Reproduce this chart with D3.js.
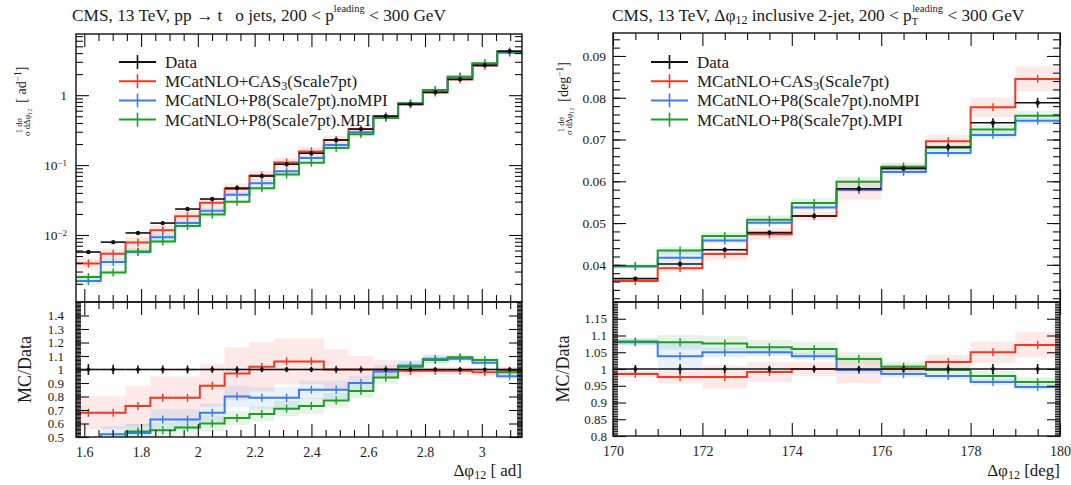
<!DOCTYPE html>
<html><head><meta charset="utf-8">
<script src="https://cdn.jsdelivr.net/npm/d3@7"></script>
<style>
body{margin:0;background:#fff}
svg{display:block}
text{font-family:"Liberation Serif","Times New Roman",serif;fill:#1a1a1a}
</style>
</head><body>
<svg id="c" width="1071" height="485"></svg>
<script>
// ---------------- data: left chart (Δφ12 in rad, 18 bins of 5 deg) ----------------
const leftEdges = [1.5708,1.6581,1.7453,1.8326,1.9199,2.0071,2.0944,2.1817,2.2689,2.3562,2.4435,2.5307,2.6180,2.7053,2.7925,2.8798,2.9671,3.0543,3.1416];
const leftData      = [0.0057,0.0079,0.0107,0.0148,0.0235,0.0327,0.0469,0.0697,0.103,0.148,0.228,0.327,0.50,0.743,1.10,1.69,2.68,4.25];
const leftDataErr   = [0.04,0.035,0.03,0.03,0.03,0.025,0.025,0.02,0.02,0.02,0.02,0.015,0.015,0.015,0.015,0.015,0.015,0.015];
const leftRedTop    = [0.0039,0.0054,0.0078,0.0117,0.0186,0.0288,0.0455,0.0711,0.109,0.157,0.228,0.327,0.50,0.736,1.09,1.67,2.63,4.21];
const leftRedRatio  = [0.68,0.68,0.73,0.79,0.79,0.88,0.97,1.02,1.06,1.06,1.0,1.0,1.0,0.99,0.99,0.99,0.98,0.99];
const leftRedUnc    = [0.18,0.18,0.2,0.2,0.2,0.18,0.2,0.18,0.16,0.16,0.15,0.1,0.07,0.04,0.03,0.03,0.03,0.03];
const leftBlueTop   = [0.0022,0.0041,0.0057,0.0093,0.0148,0.0222,0.0375,0.0551,0.0814,0.126,0.194,0.294,0.493,0.765,1.19,1.83,2.81,4.04];
const leftBlueRatio = [0.38,0.52,0.53,0.63,0.63,0.68,0.80,0.79,0.79,0.85,0.85,0.90,0.985,1.03,1.08,1.08,1.05,0.95];
const leftBlueUnc   = [0.12,0.12,0.12,0.12,0.12,0.1,0.1,0.1,0.1,0.08,0.08,0.06,0.05,0.04,0.03,0.02,0.02,0.02];
const leftGreenTop  = [0.0025,0.0029,0.0058,0.0081,0.0134,0.0196,0.030,0.0467,0.0731,0.108,0.176,0.275,0.47,0.758,1.18,1.84,2.87,4.17];
const leftGreenRatio= [0.44,0.37,0.54,0.55,0.57,0.60,0.64,0.67,0.71,0.73,0.77,0.84,0.94,1.02,1.07,1.09,1.07,0.98];
const leftGreenUnc  = [0.1,0.1,0.1,0.1,0.1,0.1,0.08,0.08,0.08,0.08,0.07,0.06,0.05,0.04,0.03,0.02,0.02,0.02];
const leftXTicks    = [1.6,1.8,2.0,2.2,2.4,2.6,2.8,3.0];
const leftYTicks    = [0.01,0.1,1];
const leftRTicks    = [0.5,0.6,0.7,0.8,0.9,1.0,1.1,1.2,1.3,1.4];

// ---------------- data: right chart (Δφ12 in deg, 10 bins of 1 deg) ----------------
const rightEdges = [170,171,172,173,174,175,176,177,178,179,180];
const rightData      = [0.0367,0.0402,0.0436,0.0477,0.0517,0.0582,0.0631,0.0682,0.0740,0.0788];
const rightDataErr   = [0.012,0.015,0.012,0.01,0.01,0.01,0.01,0.012,0.015,0.015];
const rightRedTop    = [0.0361,0.0392,0.0426,0.0473,0.0517,0.0580,0.0631,0.0696,0.0777,0.0845];
const rightRedRatio  = [0.985,0.976,0.976,0.991,1.0,0.997,1.0,1.021,1.05,1.072];
const rightRedUnc    = [0.01,0.02,0.035,0.03,0.02,0.04,0.015,0.02,0.03,0.035];
const rightBlueTop   = [0.0396,0.0417,0.0458,0.0501,0.0537,0.0580,0.0622,0.0668,0.0711,0.0745];
const rightBlueRatio = [1.08,1.038,1.05,1.05,1.038,0.997,0.985,0.979,0.961,0.946];
const rightBlueUnc   = [0.01,0.04,0.015,0.01,0.01,0.01,0.01,0.01,0.01,0.01];
const rightGreenTop  = [0.0397,0.0434,0.0469,0.0508,0.0548,0.0599,0.0635,0.0680,0.0724,0.0757];
const rightGreenRatio= [1.082,1.08,1.076,1.065,1.06,1.03,1.007,0.997,0.979,0.961];
const rightGreenUnc  = [0.01,0.02,0.02,0.02,0.02,0.02,0.015,0.01,0.015,0.015];
const rightXTicks    = [170,172,174,176,178,180];
const rightYTicks    = [0.04,0.05,0.06,0.07,0.08,0.09];
const rightRTicks    = [0.8,0.85,0.9,0.95,1.0,1.05,1.1,1.15];

const legendNames = ["Data","MCatNLO+CAS3(Scale7pt)","MCatNLO+P8(Scale7pt).noMPI","MCatNLO+P8(Scale7pt).MPI"];
const colors = {data:"#111111", red:"#ee3a22", blue:"#3b7cf4", green:"#1f9c2a"};

const svg = d3.select("#c");
const defs = svg.append("defs");

function axisG(gen, scale, vals, size, tr, fmt){
  const a = gen(scale).tickValues(vals).tickSize(-size).tickFormat(fmt || (()=>""));
  const gg = svg.append("g").attr("transform", tr).call(a);
  gg.select(".domain").remove();
  gg.selectAll("line").attr("stroke","#111").attr("stroke-width",1.1);
  return gg;
}

function panel(o){
  const x  = d3.scaleLinear().domain(o.xDomain).range([o.x0,o.x1]);
  const yT = (o.log ? d3.scaleLog() : d3.scaleLinear()).domain(o.yDomain).range([o.yMid,o.yTop]);
  const yR = d3.scaleLinear().domain(o.rDomain).range([o.yBot,o.yMid]);
  defs.append("clipPath").attr("id","ct"+o.id).append("rect")
      .attr("x",o.x0).attr("y",o.yTop).attr("width",o.x1-o.x0).attr("height",o.yMid-o.yTop);
  defs.append("clipPath").attr("id","cr"+o.id).append("rect")
      .attr("x",o.x0).attr("y",o.yMid).attr("width",o.x1-o.x0).attr("height",o.yBot-o.yMid);
  const top = svg.append("g").attr("clip-path",`url(#ct${o.id})`);
  const rat = svg.append("g").attr("clip-path",`url(#cr${o.id})`);
  const e = o.edges, n = e.length-1;
  const idx = d3.range(n);
  const ctr = idx.map(i => (e[i]+e[i+1])/2);
  const band = y => d3.area().curve(d3.curveStepAfter).x(d=>x(d[0])).y0(d=>y(d[1])).y1(d=>y(d[2]));
  const step = y => d3.line().curve(d3.curveStepAfter).x(d=>x(d[0])).y(d=>y(d[1]));
  const bpts = (v,u) => { const p = idx.map(i=>[e[i],v[i]*(1-u[i]),v[i]*(1+u[i])]); p.push([e[n],p[n-1][1],p[n-1][2]]); return p; };
  const lpts = v => { const p = idx.map(i=>[e[i],v[i]]); p.push([e[n],v[n-1]]); return p; };

  o.series.forEach(s=>{
    top.append("path").attr("d",band(yT)(bpts(s.top,s.unc))).attr("fill",s.color).attr("fill-opacity",0.11);
    rat.append("path").attr("d",band(yR)(bpts(s.ratio,s.unc))).attr("fill",s.color).attr("fill-opacity",0.11);
  });
  o.series.forEach(s=>{
    [[top,yT,s.top],[rat,yR,s.ratio]].forEach(([g,y,v])=>{
      g.append("path").attr("d",step(y)(lpts(v))).attr("fill","none").attr("stroke",s.color).attr("stroke-width",2);
      g.selectAll(null).data(idx).enter().append("line")
        .attr("x1",i=>x(ctr[i])).attr("x2",i=>x(ctr[i]))
        .attr("y1",i=>y(v[i])-4).attr("y2",i=>y(v[i])+4)
        .attr("stroke",s.color).attr("stroke-width",1.4);
    });
  });
  // data in top panel
  const dt = top.append("g").attr("stroke",colors.data);
  dt.selectAll(null).data(idx).enter().append("line")
    .attr("x1",i=>x(e[i])).attr("x2",i=>x(e[i+1])).attr("y1",i=>yT(o.data[i])).attr("y2",i=>yT(o.data[i])).attr("stroke-width",1.6);
  dt.selectAll(null).data(idx).enter().append("line")
    .attr("x1",i=>x(ctr[i])).attr("x2",i=>x(ctr[i]))
    .attr("y1",i=>yT(o.data[i]*(1-o.dataErr[i]))).attr("y2",i=>yT(o.data[i]*(1+o.dataErr[i]))).attr("stroke-width",1.6);
  top.selectAll(null).data(idx).enter().append("circle")
    .attr("cx",i=>x(ctr[i])).attr("cy",i=>yT(o.data[i])).attr("r",2.2).attr("fill",colors.data);
  // data in ratio panel
  const dr = rat.append("g").attr("stroke",colors.data);
  dr.selectAll(null).data(idx).enter().append("line")
    .attr("x1",i=>x(e[i])).attr("x2",i=>x(e[i+1])).attr("y1",yR(1)).attr("y2",yR(1)).attr("stroke-width",1.6);
  dr.selectAll(null).data(idx).enter().append("line")
    .attr("x1",i=>x(ctr[i])).attr("x2",i=>x(ctr[i]))
    .attr("y1",i=>yR(1-o.dataErr[i])).attr("y2",i=>yR(1+o.dataErr[i])).attr("stroke-width",1.6);
  rat.selectAll(null).data(idx).enter().append("circle")
    .attr("cx",i=>x(ctr[i])).attr("cy",yR(1)).attr("r",2).attr("fill",colors.data);

  // ticks (inward, on all sides)
  const big=13, small=7;
  axisG(d3.axisTop, x, o.xMajor, big, `translate(0,${o.yTop})`);
  axisG(d3.axisTop, x, o.xMinor, small, `translate(0,${o.yTop})`);
  axisG(d3.axisBottom, x, o.xMajor, big, `translate(0,${o.yMid})`);
  axisG(d3.axisBottom, x, o.xMinor, small, `translate(0,${o.yMid})`);
  const yl = axisG(d3.axisLeft, yT, o.yMajor, big, `translate(${o.x0},0)`, o.yFmt);
  yl.selectAll(".tick text").style("font-size","13.5px").attr("x",-o.yPad);
  axisG(d3.axisLeft, yT, o.yMinor, small, `translate(${o.x0},0)`);
  axisG(d3.axisRight, yT, o.yMajor, big, `translate(${o.x1},0)`);
  axisG(d3.axisRight, yT, o.yMinor, small, `translate(${o.x1},0)`);
  if (o.log) {
    yl.selectAll(".tick text").each(function(d){
      const t = d3.select(this); t.text(null);
      if (d === 1) { t.text("1"); }
      else {
        t.append("tspan").text("10");
        t.append("tspan").attr("dy","-0.45em").style("font-size","9px").text("\u2212" + Math.round(-Math.log10(d)));
      }
    });
  }
  axisG(d3.axisTop, x, o.xMajor, big, `translate(0,${o.yMid})`);
  axisG(d3.axisTop, x, o.xMinor, small, `translate(0,${o.yMid})`);
  const xb = axisG(d3.axisBottom, x, o.xMajor, big, `translate(0,${o.yBot})`, d3.format("~g"));
  xb.selectAll("text").style("font-size","14px").attr("y",10);
  axisG(d3.axisBottom, x, o.xMinor, small, `translate(0,${o.yBot})`);
  const rl = axisG(d3.axisLeft, yR, o.rMajor, big, `translate(${o.x0},0)`, d3.format("~g"));
  rl.selectAll("text").style("font-size","13px").attr("x",-o.rPad);
  axisG(d3.axisLeft, yR, o.rMinor, 5, `translate(${o.x0},0)`);
  axisG(d3.axisRight, yR, o.rMajor, big, `translate(${o.x1},0)`);
  axisG(d3.axisRight, yR, o.rMinor, 5, `translate(${o.x1},0)`);

  // frames
  svg.append("rect").attr("x",o.x0).attr("y",o.yTop).attr("width",o.x1-o.x0).attr("height",o.yMid-o.yTop)
     .attr("fill","none").attr("stroke","#111").attr("stroke-width",1.4);
  svg.append("rect").attr("x",o.x0).attr("y",o.yMid).attr("width",o.x1-o.x0).attr("height",o.yBot-o.yMid)
     .attr("fill","none").attr("stroke","#111").attr("stroke-width",1.4);

  // legend
  const lg = svg.append("g").attr("transform",`translate(${o.legX},${o.legY})`);
  const legCols = [colors.data, colors.red, colors.blue, colors.green];
  legendNames.forEach((name,k)=>{
    const row = lg.append("g").attr("transform",`translate(0,${k*19.2})`);
    row.append("line").attr("x1",0).attr("x2",37).attr("y1",0).attr("y2",0).attr("stroke",legCols[k]).attr("stroke-width",2);
    row.append("line").attr("x1",18.5).attr("x2",18.5).attr("y1",-7).attr("y2",7).attr("stroke",legCols[k]).attr("stroke-width",1.6);
    const t = row.append("text").attr("x",46).attr("y",6).style("font-size","17px");
    if (name.indexOf("CAS3") >= 0) {
      t.append("tspan").text("MCatNLO+CAS");
      t.append("tspan").attr("dy",3).style("font-size","12px").text("3");
      t.append("tspan").attr("dy",-3).text("(Scale7pt)");
    } else t.text(name);
  });

  // ratio label
  svg.append("text").attr("transform",`translate(${o.rlabX},${(o.yMid+o.yBot)/2}) rotate(-90)`)
     .attr("text-anchor","middle").style("font-size","18px").text("MC/Data");
  // y title
  const yt = svg.append("text").attr("transform",`translate(${o.ylabX},${o.yTop+102}) rotate(-90)`).style("font-size","14px");
  yt.append("tspan").style("font-size","8.5px").attr("dy",-2).text("1 dσ");
  yt.append("tspan").style("font-size","8.5px").attr("dx",-18).attr("dy",8).text("σ dΔφ₁₂");
  yt.append("tspan").attr("dx",6).attr("dy",-4).text(o.yUnit[0]);
  yt.append("tspan").style("font-size","9.5px").attr("dy",-5).text("−1");
  yt.append("tspan").attr("dy",5).text("]");
  // x title
  const xt = svg.append("text").attr("x",o.x1).attr("y",476).attr("text-anchor","end").style("font-size","17px");
  xt.append("tspan").text("Δφ");
  xt.append("tspan").attr("dy",3).style("font-size","12px").text("12");
  xt.append("tspan").attr("dy",-3).text(" " + o.xUnit);
}

const minorRange = (a,b,s) => d3.range(Math.round((b-a)/s)+1).map(k=>+(a+k*s).toFixed(4));
const logMinor = d3.range(-3,1).flatMap(p => [2,3,4,5,6,7,8,9].map(m => m*Math.pow(10,p)));

panel({
  id:"L", x0:76, x1:522, yTop:34, yMid:302, yBot:437,
  xDomain:[leftEdges[0], leftEdges[leftEdges.length-1]],
  log:true, yDomain:[0.0011,7.5], rDomain:[0.5,1.5],
  edges:leftEdges, data:leftData, dataErr:leftDataErr,
  series:[
    {top:leftRedTop, ratio:leftRedRatio, unc:leftRedUnc, color:colors.red},
    {top:leftBlueTop, ratio:leftBlueRatio, unc:leftBlueUnc, color:colors.blue},
    {top:leftGreenTop, ratio:leftGreenRatio, unc:leftGreenUnc, color:colors.green}],
  xMajor:leftXTicks, xMinor:minorRange(1.6,3.1,0.05).filter(v=>!leftXTicks.some(t=>Math.abs(t-v)<1e-6)),
  yMajor:leftYTicks, yMinor:logMinor.filter(v=>v>0.0011 && v<7.5), yFmt:d3.format("~g"), yPad:9,
  rMajor:leftRTicks, rMinor:minorRange(0.5,1.5,0.01), rPad:12,
  legX:119, legY:62, rlabX:31, ylabX:24, yUnit:["[ ad"], xUnit:"[ ad]"
});

panel({
  id:"R", x0:613, x1:1060, yTop:33, yMid:302, yBot:436,
  xDomain:[170,180],
  log:false, yDomain:[0.0311,0.0955], rDomain:[0.8,1.2],
  edges:rightEdges, data:rightData, dataErr:rightDataErr,
  series:[
    {top:rightRedTop, ratio:rightRedRatio, unc:rightRedUnc, color:colors.red},
    {top:rightBlueTop, ratio:rightBlueRatio, unc:rightBlueUnc, color:colors.blue},
    {top:rightGreenTop, ratio:rightGreenRatio, unc:rightGreenUnc, color:colors.green}],
  xMajor:rightXTicks, xMinor:minorRange(170,180,0.5).filter(v=>v%2!==0),
  yMajor:rightYTicks, yMinor:minorRange(0.032,0.094,0.002), yFmt:d3.format("~g"), yPad:7,
  rMajor:rightRTicks, rMinor:minorRange(0.8,1.2,0.005), rPad:6,
  legX:651, legY:62, rlabX:569, ylabX:566, yUnit:["[deg"], xUnit:"[deg]"
});

// titles
const t1 = svg.append("text").attr("x",72).attr("y",21).style("font-size","17.3px");
t1.append("tspan").text("CMS, 13 TeV, pp → t\u00a0\u00a0\u00a0o jets, 200 < p");
t1.append("tspan").attr("dy",-9).style("font-size","10.5px").text("leading");
t1.append("tspan").attr("dy",9).text(" < 300 GeV");

const t2 = svg.append("text").attr("x",612).attr("y",21).style("font-size","17.3px");
t2.append("tspan").text("CMS, 13 TeV, Δφ");
t2.append("tspan").attr("dy",3).style("font-size","12px").text("12");
t2.append("tspan").attr("dy",-3).text(" inclusive 2-jet, 200 < p");
t2.append("tspan").attr("dy",4).style("font-size","10.5px").text("T");
t2.append("tspan").attr("dx",-6).attr("dy",-13).style("font-size","10.5px").text("leading");
t2.append("tspan").attr("dy",9).text(" < 300 GeV");
</script>
</body></html>
